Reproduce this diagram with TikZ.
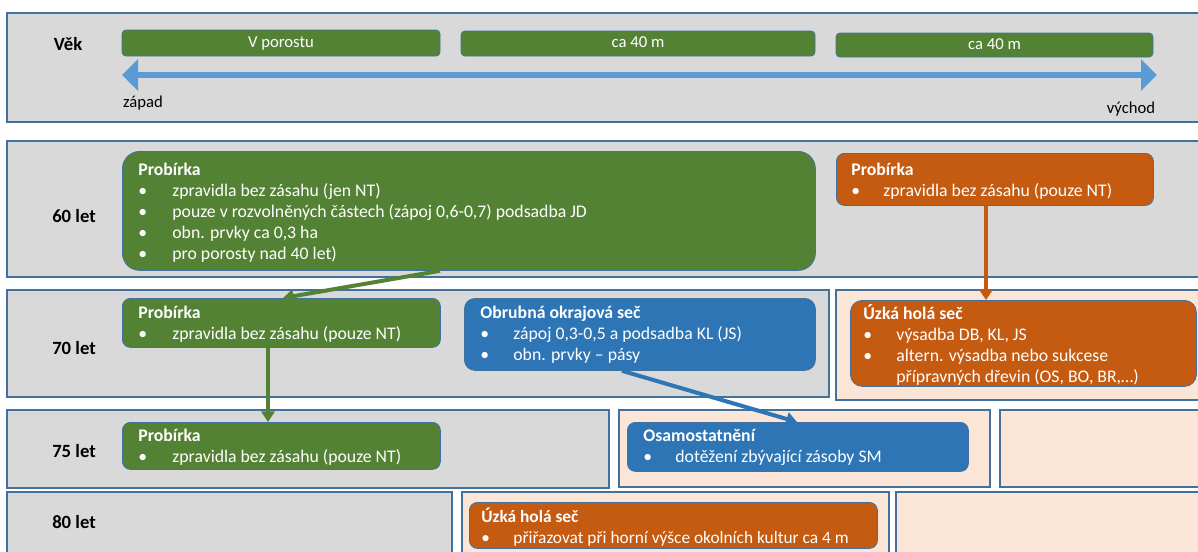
\documentclass[tikz,border=0pt]{standalone}
\usepackage{fontspec}
\setmainfont{Carlito}
\usetikzlibrary{arrows.meta, calc}
\definecolor{lesgreen}{RGB}{84,130,53}
\definecolor{lesorange}{RGB}{197,90,17}
\definecolor{lesblue}{RGB}{46,117,182}
\definecolor{axisblue}{RGB}{91,155,213}
\definecolor{panelgray}{RGB}{217,217,217}
\definecolor{panelpeach}{RGB}{251,229,214}
\definecolor{edgeblue}{RGB}{65,113,156}
\newlength\pxu
\setlength\pxu{0.75pt}
% card content: [side margin], width, height, top pad (px), body
\newcommand\card[5][16]{\parbox[t][#3\pxu][t]{\dimexpr#2\pxu-#1\pxu-#1\pxu\relax}{\vspace*{#4\pxu}#5}}
\newcommand\bul[2][34]{\par\noindent\hbox to #1\pxu{\textbullet\hfil}#2}
\newcommand\cont[2][34]{\par\noindent\hspace*{#1\pxu}#2}

\begin{document}
\begin{tikzpicture}[x=0.75pt, y=-0.75pt,
  panel/.style={draw=edgeblue, line width=0.9pt, fill=panelgray},
  peach/.style={draw=edgeblue, line width=0.9pt, fill=panelpeach},
  rowlab/.style={font=\fontsize{14pt}{16pt}\selectfont\bfseries, anchor=center},
  bar/.style={rectangle, rounded corners=3pt, draw=edgeblue, line width=0.6pt, fill=lesgreen,
              text=white, inner sep=0pt, text height=8.5pt, text depth=2.5pt,
              font=\fontsize{12.5pt}{14pt}\selectfont},
  card/.style={rectangle, rounded corners=6pt, draw=edgeblue, line width=0.6pt, text=white,
               anchor=north west, inner xsep=12pt, inner ysep=0pt,
               font=\fontsize{13.3pt}{15.75pt}\selectfont},
  gcard/.style={card, fill=lesgreen},
  ocard/.style={card, fill=lesorange},
  bcard/.style={card, fill=lesblue},
  link/.style={-{Triangle[width=10pt, length=8pt]}, line width=3pt}
]
\useasboundingbox (0,0) rectangle (1198,551);
\clip (0,0) rectangle (1198,551);

% background panels
\draw[panel] (7,13) rectangle (1215,122);
\draw[panel] (7,141) rectangle (1215,277);
\draw[panel] (7,290) rectangle (829,397);
\draw[peach] (836,290) rectangle (1215,400);
\draw[panel] (7,410) rectangle (609,488);
\draw[peach] (619,410) rectangle (990,487);
\draw[peach] (1000,410) rectangle (1215,487);
\draw[panel] (7,492) rectangle (452,570);
\draw[peach] (462,492) rectangle (889,570);
\draw[peach] (896,492) rectangle (1215,570);

% age axis
\node[rowlab] (vek) at (68,44) {Věk};
\node[bar, minimum width=238.5pt, minimum height=19.5pt] (bar1) at (281,43) {V porostu};
\node[bar, minimum width=265.5pt, minimum height=18.75pt] (bar2) at (638,43.5) {ca 40 m};
\node[bar, minimum width=237.75pt, minimum height=18pt] (bar3) at (994.5,45) {ca 40 m};
\coordinate (west) at (122,75);
\coordinate (east) at (1157,75);
\draw[{Triangle[width=23pt, length=12pt]}-{Triangle[width=23pt, length=12pt]}, line width=4.5pt, axisblue] (west) -- (east);
\node[font=\fontsize{12.5pt}{14pt}\selectfont] (zapad) at (143,103) {západ};
\node[font=\fontsize{12.5pt}{14pt}\selectfont] (vychod) at (1131,109) {východ};

% rows
\node[rowlab] (r60) at (74,216) {60 let};
\node[rowlab] (r70) at (74,348) {70 let};
\node[rowlab] (r75) at (74,451) {75 let};
\node[rowlab] (r80) at (74,522) {80 let};

\node[gcard, rounded corners=13pt] (prob60) at (122,151) {\card{693}{119}{12}{\textbf{Probírka}
  \bul{zpravidla bez zásahu (jen NT)}
  \bul{pouze v rozvolněných částech (zápoj 0,6-0,7) podsadba JD}
  \bul{obn. prvky ca 0,3 ha}
  \bul{pro porosty nad 40 let)}}};
\node[ocard, inner xsep=11.25pt] (probo60) at (836,153) {\card[15]{317}{52}{10}{\textbf{Probírka}
  \bul[32]{zpravidla bez zásahu (pouze NT)}}};

\node[gcard] (prob70) at (122,298) {\card{318}{49}{8}{\textbf{Probírka}
  \bul{zpravidla bez zásahu (pouze NT)}}};
\node[bcard, rounded corners=8pt] (obrub) at (464,298) {\card{351}{72}{8}{\textbf{Obrubná okrajová seč}
  \bul[33]{zápoj 0,3-0,5 a podsadba KL (JS)}
  \bul[33]{obn. prvky – pásy}}};
\node[ocard, rounded corners=9pt, inner xsep=9.75pt] (uzka70) at (850,300) {\card[13]{346}{86}{4}{\textbf{Úzká holá seč}
  \bul[33]{výsadba DB, KL, JS}
  \bul[33]{altern. výsadba nebo sukcese}
  \cont[33]{přípravných dřevin (OS, BO, BR,…)}}};

\node[gcard] (prob75) at (122,422) {\card{318}{47}{7}{\textbf{Probírka}
  \bul{zpravidla bez zásahu (pouze NT)}}};
\node[bcard] (osam) at (627,422) {\card{341}{49}{7}{\textbf{Osamostatnění}
  \bul[32]{dotěžení zbývající zásoby SM}}};

\node[ocard, inner xsep=9pt, font=\fontsize{13pt}{15.5pt}\selectfont] (uzka80) at (469,502) {\card[12]{408}{46}{6}{\textbf{Úzká holá seč}
  \bul[32]{přiřazovat při horní výšce okolních kultur ca 4 m}}};

% transitions
\draw[link, lesgreen] ($(prob60.south west)+(318,0)$) -- ($(prob70.north west)+(161,0)$);
\draw[link, lesgreen] ($(prob70.south west)+(146,0)$) -- ($(prob75.north west)+(146,0)$);
\draw[link, lesorange] ($(probo60.south west)+(150,0)$) -- ($(uzka70.north west)+(136,0)$);
\draw[link, lesblue] ($(obrub.south west)+(158,0)$) -- ($(osam.north west)+(170,0)$);
\end{tikzpicture}
\end{document}
